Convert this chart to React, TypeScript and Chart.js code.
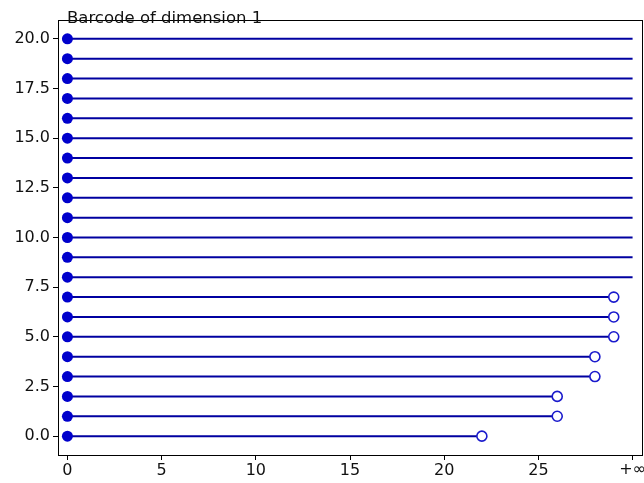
import React, { useEffect, useRef } from "react";
import { Chart, registerables } from "chart.js";

Chart.register(...registerables);

const INF = 30;
const barIndex = [0, 1, 2, 3, 4, 5, 6, 7, 8, 9, 10, 11, 12, 13, 14, 15, 16, 17, 18, 19, 20];
const births = [0, 0, 0, 0, 0, 0, 0, 0, 0, 0, 0, 0, 0, 0, 0, 0, 0, 0, 0, 0, 0];
const deaths = [22, 26, 26, 28, 28, 29, 29, 29, INF, INF, INF, INF, INF, INF, INF, INF, INF, INF, INF, INF, INF];
const xTicks = [0, 5, 10, 15, 20, 25, 30];
const yTicks = [0, 2.5, 5, 7.5, 10, 12.5, 15, 17.5, 20];
const infLabel = "+∞";
const title = "Barcode of dimension 1";

const LINE = "#0000a0";
const DOT = "#0000cc";
const FONT = "'DejaVu Sans', sans-serif";

export default function App() {
  const ref = useRef<HTMLCanvasElement | null>(null);
  useEffect(() => {
    if (!ref.current) return;
    const lineSets = barIndex.map((y, i) => ({
      type: "line" as const,
      data: [
        { x: births[i], y },
        { x: deaths[i], y },
      ],
      borderColor: LINE,
      borderWidth: 2,
      pointRadius: 0,
      showLine: true,
      fill: false,
      order: 2,
    }));
    const birthSet = {
      type: "scatter" as const,
      data: barIndex.map((y, i) => ({ x: births[i], y })),
      pointRadius: 5.5,
      pointBackgroundColor: DOT,
      pointBorderColor: DOT,
      pointBorderWidth: 0,
      showLine: false,
      order: 0,
    };
    const deathSet = {
      type: "scatter" as const,
      data: barIndex
        .map((y, i) => ({ x: deaths[i], y }))
        .filter((p) => p.x < INF),
      pointRadius: 5,
      pointBackgroundColor: "#ffffff",
      pointBorderColor: "#1a1acc",
      pointBorderWidth: 1.6,
      showLine: false,
      order: 0,
    };
    const framePlugin = {
      id: "frame",
      afterDraw(chart: any) {
        const { ctx, chartArea } = chart;
        const xs = chart.scales.x;
        ctx.save();
        ctx.strokeStyle = "#000";
        ctx.lineWidth = 1;
        ctx.strokeRect(
          Math.round(chartArea.left) + 0.5,
          Math.round(chartArea.top) + 0.5,
          Math.round(chartArea.right - chartArea.left),
          Math.round(chartArea.bottom - chartArea.top)
        );
        ctx.fillStyle = "#111";
        ctx.font = `16.5px ${FONT}`;
        ctx.textBaseline = "alphabetic";
        ctx.textAlign = "left";
        ctx.fillText(title, 67, 23);
        ctx.font = `16px ${FONT}`;
        ctx.textAlign = "center";
        ctx.textBaseline = "top";
        ctx.fillText(infLabel, xs.getPixelForValue(INF), chartArea.bottom + 7);
        ctx.restore();
      },
    };
    const chart = new Chart(ref.current, {
      type: "scatter",
      data: { datasets: [birthSet, deathSet, ...lineSets] as any },
      options: {
        animation: false,
        responsive: false,
        events: [],
        layout: { autoPadding: false, padding: { top: 20, right: 2, left: 0, bottom: 0 } },
        plugins: { legend: { display: false }, tooltip: { enabled: false } },
        scales: {
          x: {
            type: "linear",
            min: -0.5,
            max: 30.5,
            afterBuildTicks: (s: any) => {
              s.ticks = xTicks.map((v) => ({ value: v }));
            },
            afterFit: (s: any) => {
              s.height = 28;
              s.paddingLeft = 0;
              s.paddingRight = 0;
            },
            ticks: {
              color: "#111",
              font: { family: FONT, size: 16 },
              padding: 1,
              maxRotation: 0,
              autoSkip: false,
              callback: (v: any) => (Number(v) >= INF ? "" : String(v)),
            },
            grid: { drawOnChartArea: false, drawTicks: true, tickLength: 5, color: "#000" },
            border: { display: true, color: "#000" },
          },
          y: {
            type: "linear",
            min: -0.95,
            max: 20.95,
            afterBuildTicks: (s: any) => {
              s.ticks = yTicks.map((v) => ({ value: v }));
            },
            afterFit: (s: any) => {
              s.width = 58;
              s.paddingTop = 0;
              s.paddingBottom = 0;
            },
            ticks: {
              color: "#111",
              font: { family: FONT, size: 16 },
              padding: 3,
              autoSkip: false,
              callback: (v: any) => Number(v).toFixed(1),
            },
            grid: { drawOnChartArea: false, drawTicks: true, tickLength: 5, color: "#000" },
            border: { display: true, color: "#000" },
          },
        },
      },
      plugins: [framePlugin],
    });
    return () => chart.destroy();
  }, []);
  return (
    <div style={{ position: "fixed", left: 0, top: 0, width: 644, height: 483, background: "#fff" }}>
      <canvas ref={ref} width={644} height={483} style={{ display: "block" }} />
    </div>
  );
}
